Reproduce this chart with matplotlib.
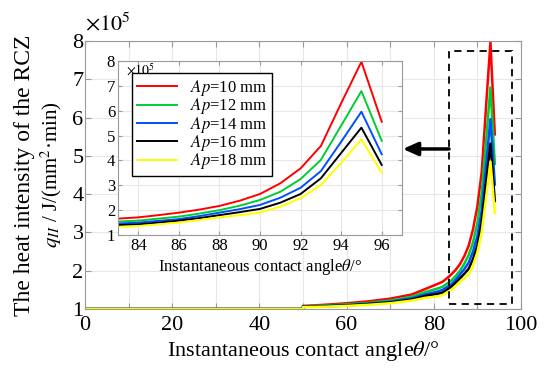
import numpy as np
import matplotlib
matplotlib.use("Agg")
import matplotlib.pyplot as plt
from matplotlib.patches import Rectangle

plt.rcParams['font.family'] = ['Liberation Serif', 'DejaVu Serif']
plt.rcParams['mathtext.fontset'] = 'stix'

# 工况（切深）
labels = ['10', '12', '14', '16', '18']
colors = ['#ff0000', '#00cc33', '#0050ff', '#000000', '#ffff00']

# 放大图中的瞬时接触角及热强度 (x10^5)
theta_zoom = [83, 84, 85, 86, 87, 88, 89, 90, 91, 92, 93, 94, 95, 96]
q_zoom = [
    [1.66, 1.71, 1.80, 1.90, 2.02, 2.17, 2.38, 2.65, 3.08, 3.68, 4.58, 6.30, 7.97, 5.56],
    [1.54, 1.58, 1.66, 1.74, 1.86, 2.00, 2.18, 2.41, 2.74, 3.25, 4.02, 5.40, 6.79, 4.79],
    [1.46, 1.50, 1.57, 1.64, 1.76, 1.90, 2.04, 2.21, 2.50, 2.90, 3.57, 4.75, 5.96, 4.25],
    [1.40, 1.43, 1.50, 1.58, 1.68, 1.80, 1.92, 2.05, 2.30, 2.65, 3.28, 4.30, 5.32, 3.82],
    [1.33, 1.36, 1.43, 1.50, 1.60, 1.71, 1.80, 1.90, 2.14, 2.48, 3.01, 3.90, 4.85, 3.51],
]

# 主图：0~50度为1，50度后上升
theta_low = [0, 50, 50, 55, 60, 65, 70, 75, 78]
q_low = [
    [1.0, 1.0, 1.08, 1.11, 1.15, 1.20, 1.27, 1.38, 1.52],
    [1.0, 1.0, 1.07, 1.09, 1.12, 1.16, 1.22, 1.32, 1.44],
    [1.0, 1.0, 1.06, 1.08, 1.10, 1.14, 1.19, 1.28, 1.38],
    [1.0, 1.0, 1.06, 1.07, 1.09, 1.13, 1.17, 1.25, 1.34],
    [1.0, 1.0, 1.05, 1.06, 1.08, 1.11, 1.15, 1.22, 1.29],
]
theta_tail = [81, 82, 83, 84, 85, 86, 87, 88, 89, 90, 91, 92, 93, 94]

fig = plt.figure(figsize=(5.5, 3.69), dpi=100)
ax = fig.add_axes([0.1545, 0.1626, 0.7927, 0.7263])

grid_c = '#e8e8e8'
frame_c = '#9a9a9a'

for i in range(5):
    x = theta_low + theta_tail
    y = q_low[i] + q_zoom[i]
    ax.plot(x, y, color=colors[i], lw=1.8)

ax.set_xlim(0, 100)
ax.set_ylim(1, 8)
ax.set_xticks(np.arange(0, 101, 10))
ax.set_xticklabels([str(v) if v % 20 == 0 else '' for v in range(0, 101, 10)])
ax.set_yticks(np.arange(1, 9, 1))
ax.tick_params(direction='in', top=True, right=True, colors=frame_c,
               labelcolor='k', labelsize=16, length=4, pad=1)
ax.tick_params(axis='x', pad=5)
ax.grid(True, color=grid_c, lw=0.8)
for s in ax.spines.values():
    s.set_color(frame_c)
ax.set_xlabel(r'Instantaneous contact angle$\theta$/°', fontsize=16, labelpad=3)
fig.text(0.045, 0.526, 'The heat intensity of the RCZ', rotation=90,
         fontsize=17, ha='center', va='center')
fig.text(0.093, 0.526, r'$q_{II}$ / J/(mm$^2$·min)', rotation=90,
         fontsize=15, ha='center', va='center')
ax.text(0.0, 1.02, r'$\times10^5$', transform=ax.transAxes, fontsize=16,
        ha='left', va='bottom')

# 虚线框及箭头
ax.add_patch(Rectangle((83.5, 1.13), 14.4, 6.61, fill=False, ls=(0, (4, 3)),
                       lw=1.3, ec='k', zorder=5))
ax.annotate('', xy=(72.9, 5.18), xytext=(83.5, 5.18),
            arrowprops=dict(arrowstyle='-|>,head_length=0.9,head_width=0.4',
                            lw=2.5, color='k', shrinkA=0, shrinkB=0))

# 放大子图
axin = fig.add_axes([0.2145, 0.3631, 0.5164, 0.4715])
for i in range(5):
    axin.plot(theta_zoom, q_zoom[i], color=colors[i], lw=1.4,
              label=r'$\it{Ap}$=' + labels[i] + ' mm')
axin.set_xlim(83, 97)
axin.set_ylim(1, 8)
axin.set_xticks(np.arange(84, 97, 2))
axin.set_yticks(np.arange(1, 9, 1))
axin.tick_params(direction='in', top=True, right=True, colors=frame_c,
                 labelcolor='k', labelsize=12, length=3, pad=2)
axin.grid(True, color=grid_c, lw=0.8)
for s in axin.spines.values():
    s.set_color(frame_c)
axin.set_xlabel(r'Instantaneous contact angle$\theta$/°', fontsize=12, labelpad=2)
axin.text(0.03, 0.995, r'$\times10^5$', transform=axin.transAxes, fontsize=10,
          ha='left', va='top')
leg = axin.legend(loc='upper left', bbox_to_anchor=(0.049, 0.931), fontsize=12,
                  frameon=True, fancybox=False, edgecolor='k', framealpha=1,
                  handlelength=2.4, labelspacing=-0.1, borderpad=0.3,
                  handletextpad=0.8, borderaxespad=0)
leg.get_frame().set_linewidth(1.0)

fig.savefig('out.png', dpi=100)
